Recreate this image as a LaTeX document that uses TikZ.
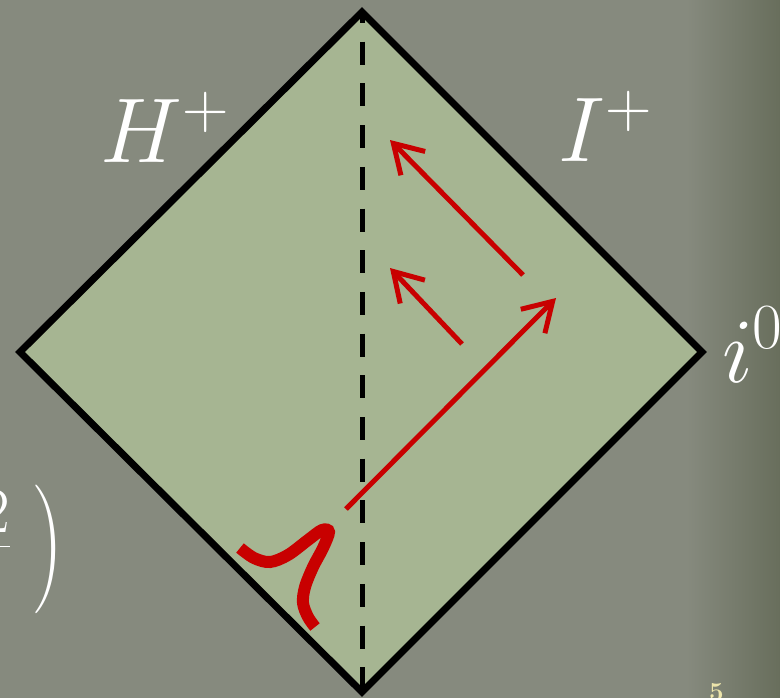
\RequirePackage{fix-cm}
\documentclass[tikz,border=0pt]{standalone}
\usepackage{amsmath}
\usetikzlibrary{arrows.meta}
\definecolor{slidegrey}{RGB}{134,138,126}
\definecolor{slidedark}{RGB}{104,110,92}
\definecolor{penrosegreen}{RGB}{166,181,146}
\definecolor{signalred}{RGB}{200,0,0}
\definecolor{pagenum}{RGB}{236,228,170}
\pgfdeclarehorizontalshading{slidebg}{100bp}{color(0bp)=(slidegrey); color(69bp)=(slidegrey); color(75bp)=(slidedark); color(100bp)=(slidedark)}

\begin{document}
\begin{tikzpicture}[
    x=1pt, y=-1pt,
    edge/.style={draw=black, line width=7pt, line join=miter},
    axisline/.style={draw=black, line width=5pt, dash pattern=on 23pt off 18.7pt, dash phase=12pt},
    ray/.style={draw=signalred, line width=5pt, -{Straight Barb[length=28pt,width=34pt]}},
    wave/.style={draw=signalred, line width=12pt},
    bigsym/.style={text=white, inner sep=0pt, font=\fontsize{92}{100}\selectfont}
]

% background
\shade[shading=slidebg] (0,0) rectangle (780,697);
\useasboundingbox (0,0) rectangle (780,697);

% corners of the diagram
\coordinate (top) at (362,12);
\coordinate (right) at (702,352);
\coordinate (bottom) at (362,692);
\coordinate (left) at (20,352);

\fill[penrosegreen] (top) -- (right) -- (bottom) -- (left) -- cycle;
\draw[axisline] (top) -- (bottom);
\draw[edge] (top) -- (right) -- (bottom) -- (left) -- cycle;

% rays
\coordinate (outtail) at (346,509);
\coordinate (outhead) at (556,298);
\coordinate (uptail) at (523,275);
\coordinate (uphead) at (390,140);
\coordinate (lowtail) at (462,344);
\coordinate (lowhead) at (390,268);
\draw[ray] (outtail) -- (outhead);
\draw[ray] (uptail) -- (uphead);
\draw[ray] (lowtail) -- (lowhead);

% wave packet
\draw[wave] plot[smooth, tension=0.55] coordinates {(240,548) (254,558) (270,562) (288,555) (308,540) (322,530) (329,532) (323,548) (313,567) (305,587) (303,603) (308,617) (315,627)};

% labels
\node[bigsym, anchor=base] (horizon) at (165,162) {$H^+$};
\node[bigsym, anchor=base] (scri) at (605,161) {$I^+$};
\node[bigsym, anchor=base west] (spatial) at (722,382) {$i^0$};
\node[bigsym, anchor=base west] (fraction) at (-21,569) {$\frac{2}{\phantom{2}}\kern20pt\raisebox{-12pt}{\scalebox{1}[1.4]{$)$}}$};
\node[text=pagenum, inner sep=0pt, anchor=base west, font=\fontsize{26}{30}\selectfont] (slideno) at (709,700) {$\mathbf{5}$};

\end{tikzpicture}
\end{document}
